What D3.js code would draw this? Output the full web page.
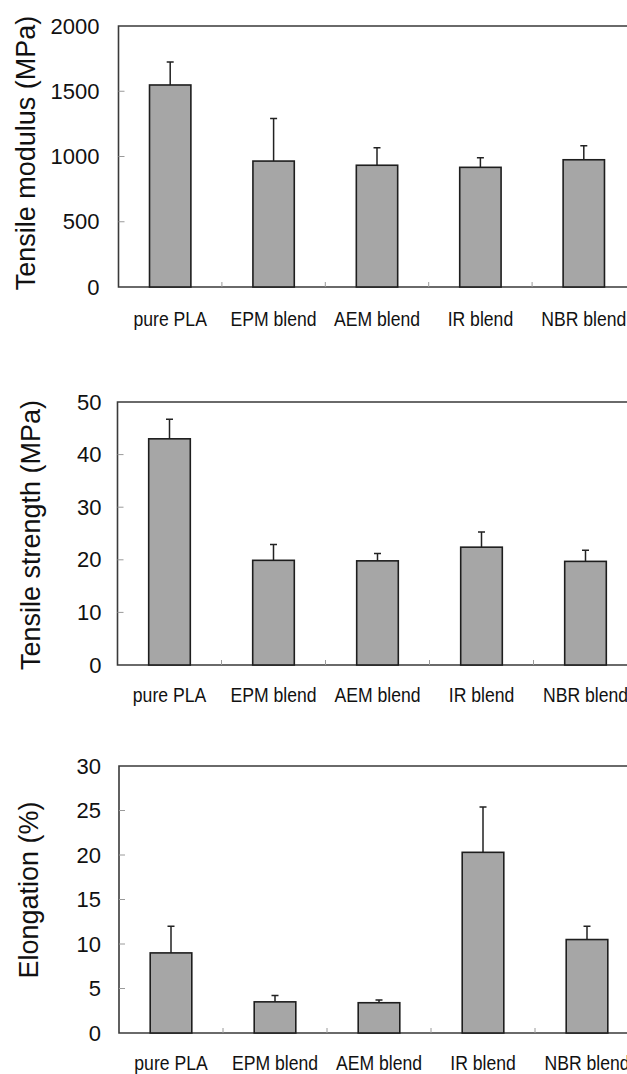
<!DOCTYPE html>
<html>
<head>
<meta charset="utf-8">
<script src="https://cdn.jsdelivr.net/npm/d3@7"></script>
<style>
  body { margin: 0; background: #fff; }
  text { font-family: "Liberation Sans", Arial, sans-serif; fill: #111; }
</style>
</head>
<body>
<div id="chart"></div>
<script>
// data
var categories = ["pure PLA", "EPM blend", "AEM blend", "IR blend", "NBR blend"];

var modulus = [1548, 965, 933, 917, 975];
var modulusErr = [176, 327, 135, 74, 108];
var modulusTicks = [0, 500, 1000, 1500, 2000];

var strength = [43.0, 19.9, 19.8, 22.4, 19.7];
var strengthErr = [3.7, 3.0, 1.4, 2.9, 2.1];
var strengthTicks = [0, 10, 20, 30, 40, 50];

var elongation = [9.0, 3.5, 3.4, 20.3, 10.5];
var elongationErr = [3.0, 0.7, 0.3, 5.1, 1.5];
var elongationTicks = [0, 5, 10, 15, 20, 25, 30];

var width = 627,
    height = 1074;

var svg = d3.select("#chart")
  .append("svg")
  .attr("width", width)
  .attr("height", height);

// one panel = one bar chart with error bars
function panel(opts) {
  var left = opts.left, top = opts.top, bottom = opts.bottom
  var plotW = opts.plotW

  var x = d3.scaleBand()
    .domain(categories)
    .range([left, left + plotW])
    .paddingInner(0.6)
    .paddingOuter(0.3)

  var y = d3.scaleLinear()
    .domain([0, d3.max(opts.ticks)])
    .range([bottom, top])

  var g = svg.append("g")

  // frame (right side runs off the picture)
  g.append("path")
    .attr("d", "M" + (left + plotW) + "," + y(d3.max(opts.ticks)) + "H" + left + "V" + y(0) + "H" + (left + plotW))
    .attr("fill", "none")
    .attr("stroke", "#3a3a3a")
    .attr("stroke-width", 1.6)

  // small inside ticks on y
  g.selectAll(".ytick")
    .data(opts.ticks.slice(1, -1))
    .enter().append("line")
    .attr("x1", left).attr("x2", left + 6)
    .attr("y1", function (d) { return y(d) }).attr("y2", function (d) { return y(d) })
    .attr("stroke", "#9a9a9a")
    .attr("stroke-width", 1)

  g.selectAll(".ylab")
    .data(opts.ticks)
    .enter().append("text")
    .attr("x", left - opts.gap)
    .attr("y", function (d) { return y(d) })
    .attr("text-anchor", "end")
    .attr("dominant-baseline", "central")
    .style("font-size", "22px")
    .text(function (d) { return d })

  // category separators, pointing up from the axis
  var half = (x.step() - x.bandwidth()) / 2
  g.selectAll(".xtick")
    .data(categories.slice(1))
    .enter().append("line")
    .attr("x1", function (d) { return x(d) - half }).attr("x2", function (d) { return x(d) - half })
    .attr("y1", y(0)).attr("y2", y(0) - 5)
    .attr("stroke", "#9a9a9a")
    .attr("stroke-width", 1)

  var rows = categories.map(function (c, i) {
    return { cat: c, v: opts.values[i], e: opts.errs[i] }
  })

  // error bars first so the bar outline sits on top
  g.selectAll(".err")
    .data(rows)
    .enter().append("path")
    .attr("d", function (d) {
      var cx = x(d.cat) + x.bandwidth() / 2
      return "M" + cx + "," + y(d.v) + "V" + y(d.v + d.e) + "M" + (cx - 3.5) + "," + y(d.v + d.e) + "H" + (cx + 3.5)
    })
    .attr("fill", "none")
    .attr("stroke", "#222")
    .attr("stroke-width", 1.5)

  g.selectAll(".bar")
    .data(rows)
    .enter().append("rect")
    .attr("x", function (d) { return x(d.cat) })
    .attr("width", x.bandwidth())
    .attr("y", function (d) { return y(d.v) })
    .attr("height", function (d) { return y(0) - y(d.v) })
    .attr("fill", "#a6a6a6")
    .attr("stroke", "#1e1e1e")
    .attr("stroke-width", 1.6)

  g.selectAll(".xlab")
    .data(categories)
    .enter().append("text")
    .attr("transform", function (d) {
      return "translate(" + (x(d) + x.bandwidth() / 2) + "," + (y(0) + opts.labDy) + ") scale(0.88,1)"
    })
    .attr("text-anchor", "middle")
    .style("font-size", "20px")
    .text(function (d) { return d })

  // rotated axis title
  g.append("text")
    .attr("transform", "translate(" + opts.titleX + "," + opts.titleY + ") rotate(-90)")
    .attr("text-anchor", "middle")
    .style("font-size", "27px")
    .text(opts.title)
}

panel({ top: 26, bottom: 287, left: 118.5, plotW: 517, gap: 19, labDy: 39, titleX: 35, titleY: 153,
  values: modulus, errs: modulusErr, ticks: modulusTicks, title: "Tensile modulus (MPa)" })

panel({ top: 402, bottom: 665, left: 117.5, plotW: 520, gap: 16, labDy: 37, titleX: 40, titleY: 535,
  values: strength, errs: strengthErr, ticks: strengthTicks, title: "Tensile strength (MPa)" })

panel({ top: 766, bottom: 1033, left: 119, plotW: 520, gap: 18, labDy: 37, titleX: 38, titleY: 890,
  values: elongation, errs: elongationErr, ticks: elongationTicks, title: "Elongation (%)" })
</script>
</body>
</html>
